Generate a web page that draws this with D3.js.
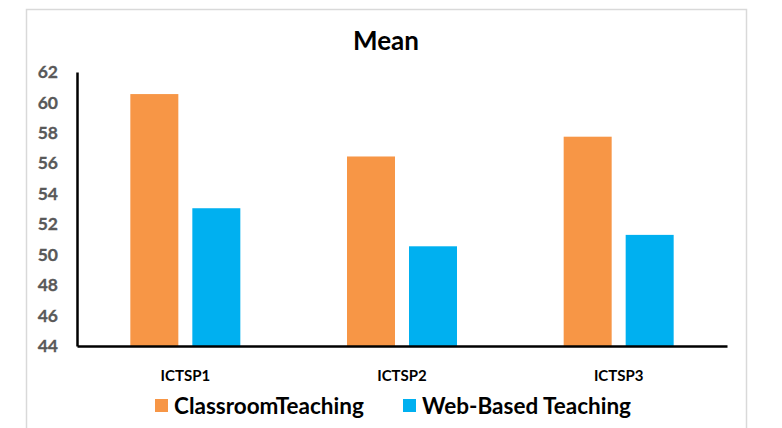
<!DOCTYPE html>
<html>
<head>
<meta charset="utf-8">
<script src="https://cdn.jsdelivr.net/npm/d3@7"></script>
<style>
  body { margin: 0; background: #fff; }
  svg { display: block; font-family: Lato, "Open Sans", sans-serif; }
</style>
</head>
<body>
<svg id="chart"></svg>
<script>
const categories = ["ICTSP1", "ICTSP2", "ICTSP3"];
const seriesNames = ["ClassroomTeaching", "Web-Based Teaching"];
const classroomValues = [60.55, 56.45, 57.75];
const webValues = [53.05, 50.55, 51.3];
const yTicks = [44, 46, 48, 50, 52, 54, 56, 58, 60, 62];
const colors = ["#f79646", "#00b0f0"];

const width = 782, height = 428;
const margin = { top: 72, right: 55, bottom: 82, left: 77 };

const svg = d3.select("#chart").attr("width", width).attr("height", height);

// chart frame
svg.append("rect")
    .attr("x", 26.5).attr("y", 9.5)
    .attr("width", 720).attr("height", 430)
    .attr("fill", "none").attr("stroke", "#d9d9d9").attr("stroke-width", 1.5);

svg.append("text")
    .attr("x", 386).attr("y", 50)
    .attr("text-anchor", "middle")
    .attr("font-size", 26).attr("font-weight", "bold")
    .attr("fill", "#000")
    .text("Mean");

const x = d3.scaleBand()
    .domain(categories)
    .range([margin.left, width - margin.right]);

const inner = d3.scaleBand()
    .domain(seriesNames)
    .range([0, 110])
    .paddingInner(0.2258);

const y = d3.scaleLinear()
    .domain([44, 62])
    .range([height - margin.bottom, margin.top]);

const rows = categories.map((c, i) => ({ cat: c, vals: [classroomValues[i], webValues[i]] }));

const groups = svg.append("g").selectAll("g")
    .data(rows)
    .join("g")
    .attr("transform", d => `translate(${x(d.cat) + (x.bandwidth() - 110) / 2},0)`);

groups.selectAll("rect")
    .data(d => d.vals.map((v, j) => ({ name: seriesNames[j], v, j })))
    .join("rect")
    .attr("x", d => inner(d.name))
    .attr("width", inner.bandwidth())
    .attr("y", d => y(d.v))
    .attr("height", d => y(44) - y(d.v))
    .attr("fill", d => colors[d.j]);

// y axis
const yAxis = svg.append("g")
    .attr("transform", `translate(${margin.left},0)`)
    .call(d3.axisLeft(y).tickValues(yTicks).tickSize(0).tickPadding(19));
yAxis.select(".domain").attr("stroke", "#000").attr("stroke-width", 2.5);
yAxis.selectAll("text")
    .attr("font-family", "Lato, sans-serif")
    .attr("font-size", 17.5).attr("font-weight", "bold").attr("fill", "#595959")
    .attr("stroke", "#595959").attr("stroke-width", 0.3);

// x axis
const xAxis = svg.append("g")
    .attr("transform", `translate(0,${height - margin.bottom})`)
    .call(d3.axisBottom(x).tickSize(0).tickPadding(24));
xAxis.select(".domain").attr("stroke", "#000").attr("stroke-width", 2.5);
xAxis.selectAll("text")
    .attr("font-family", "Lato, sans-serif")
    .attr("font-size", 15).attr("font-weight", "bold").attr("fill", "#000");

// legend
const legendX = [155, 403];
const legend = svg.append("g").selectAll("g")
    .data(seriesNames)
    .join("g")
    .attr("transform", (d, i) => `translate(${legendX[i]},399)`);
legend.append("rect")
    .attr("width", 13).attr("height", 13)
    .attr("fill", (d, i) => colors[i]);
legend.append("text")
    .attr("x", 19).attr("y", 15)
    .attr("font-size", 22.5).attr("font-weight", "bold").attr("fill", "#000")
    .text(d => d);
</script>
</body>
</html>
